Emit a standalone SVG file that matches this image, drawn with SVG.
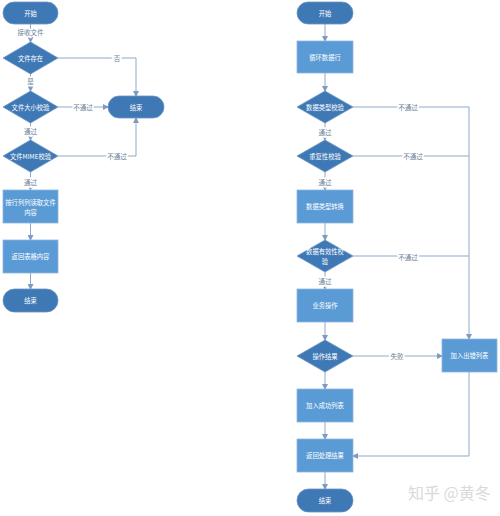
<svg xmlns="http://www.w3.org/2000/svg" width="500" height="516" viewBox="0 0 500 516">
<defs>
<marker id="ah" markerWidth="6" markerHeight="6" refX="5" refY="3" orient="auto" markerUnits="userSpaceOnUse">
<path d="M0,0 L6,3 L0,6 Z" fill="#7f9cc0"/>
</marker>
<style>
.term{fill:#3f79b5;stroke:#6a94c4;stroke-width:0.8}
.dia{fill:#3f79b5;stroke:#6a94c4;stroke-width:0.8}
.box{fill:#5b9bd5;stroke:#8fb6e0;stroke-width:0.8}
.nt{font-family:"Noto Sans CJK SC","Liberation Sans",sans-serif;font-size:6.3px;fill:#ffffff;text-anchor:middle;dominant-baseline:central}
.ln{fill:none;stroke:#8ea9c8;stroke-width:1}
.arr{marker-end:url(#ah)}
.lb{font-family:"Noto Sans CJK SC","Liberation Sans",sans-serif;font-size:6.5px;fill:#6b7f99;text-anchor:middle;dominant-baseline:central;stroke:#ffffff;stroke-width:3;paint-order:stroke}
.wm{font-family:"Noto Sans CJK SC","Liberation Sans",sans-serif;font-size:16px;fill:#dadada}
</style>
</defs>
<rect width="500" height="516" fill="#ffffff"/>
<g id="connectors">
<path class="ln arr" d="M30.5,24 V42"/>
<path class="ln arr" d="M30.5,74 V91"/>
<path class="ln arr" d="M30.5,123 V140"/>
<path class="ln arr" d="M30.5,172 V190"/>
<path class="ln arr" d="M30.5,223 V240"/>
<path class="ln arr" d="M30.5,273 V289"/>
<path class="ln arr" d="M58,58 H136 V96"/>
<path class="ln arr" d="M58,107 H108"/>
<path class="ln arr" d="M58,156 H136 V118"/>
<path class="ln arr" d="M325,24 V41"/>
<path class="ln arr" d="M325,73 V91"/>
<path class="ln arr" d="M325,123 V140"/>
<path class="ln arr" d="M325,172 V190"/>
<path class="ln arr" d="M325,223 V240"/>
<path class="ln arr" d="M325,272 V289"/>
<path class="ln arr" d="M325,322 V340"/>
<path class="ln arr" d="M325,372 V389"/>
<path class="ln arr" d="M325,422 V439"/>
<path class="ln arr" d="M325,472 V489"/>
<path class="ln arr" d="M353,107 H469 V339"/>
<path class="ln" d="M353,156 H469"/>
<path class="ln" d="M353,256 H469"/>
<path class="ln arr" d="M353,356 H442"/>
<path class="ln arr" d="M469,372 V456 H353"/>
<text class="lb" x="30.5" y="32">接收文件</text>
<text class="lb" x="30.5" y="81">是</text>
<text class="lb" x="30.5" y="131">通过</text>
<text class="lb" x="30.5" y="182">通过</text>
<text class="lb" x="117" y="58">否</text>
<text class="lb" x="83" y="107">不通过</text>
<text class="lb" x="117" y="156">不通过</text>
<text class="lb" x="325" y="132">通过</text>
<text class="lb" x="325" y="182">通过</text>
<text class="lb" x="325" y="281">通过</text>
<text class="lb" x="408" y="107">不通过</text>
<text class="lb" x="413" y="156">不通过</text>
<text class="lb" x="408" y="257">不通过</text>
<text class="lb" x="397" y="356">失败</text>
</g>
<g id="l-start"><rect class="term" x="3" y="2" width="55" height="22" rx="11"/><text class="nt" x="30.5" y="13">开始</text></g>
<g id="l-exist"><path class="dia" d="M3,58 L30.5,42 L58,58 L30.5,74 Z"/><text class="nt" x="30.5" y="58">文件存在</text></g>
<g id="l-size"><path class="dia" d="M3,107 L30.5,91 L58,107 L30.5,123 Z"/><text class="nt" x="30.5" y="107">文件大小校验</text></g>
<g id="l-mime"><path class="dia" d="M3,156 L30.5,140 L58,156 L30.5,172 Z"/><text class="nt" x="30.5" y="156">文件MIME校验</text></g>
<g id="l-read"><rect class="box" x="3" y="190" width="55" height="33"/><text class="nt" x="30.5" y="202">按行列列读取文件</text><text class="nt" x="30.5" y="212">内容</text></g>
<g id="l-ret"><rect class="box" x="3" y="240" width="55" height="33"/><text class="nt" x="30.5" y="256.5">返回表格内容</text></g>
<g id="l-end"><rect class="term" x="3" y="289" width="55" height="23" rx="11.5"/><text class="nt" x="30.5" y="300.5">结束</text></g>
<g id="l-end2"><rect class="term" x="108" y="96" width="56" height="22" rx="11"/><text class="nt" x="136" y="107">结束</text></g>
<g id="r-start"><rect class="term" x="297" y="2" width="56" height="22" rx="11"/><text class="nt" x="325" y="13">开始</text></g>
<g id="r-loop"><rect class="box" x="297" y="41" width="56" height="32"/><text class="nt" x="325" y="57">循环数据行</text></g>
<g id="r-type"><path class="dia" d="M297,107 L325,91 L353,107 L325,123 Z"/><text class="nt" x="325" y="107">数据类型校验</text></g>
<g id="r-dup"><path class="dia" d="M297,156 L325,140 L353,156 L325,172 Z"/><text class="nt" x="325" y="156">重复性校验</text></g>
<g id="r-conv"><rect class="box" x="297" y="190" width="56" height="33"/><text class="nt" x="325" y="206.5">数据类型转换</text></g>
<g id="r-valid"><path class="dia" d="M297,256 L325,240 L353,256 L325,272 Z"/><text class="nt" x="325" y="251">数据有效性校</text><text class="nt" x="325" y="261">验</text></g>
<g id="r-biz"><rect class="box" x="297" y="289" width="56" height="33"/><text class="nt" x="325" y="305.5">业务操作</text></g>
<g id="r-res"><path class="dia" d="M297,356 L325,340 L353,356 L325,372 Z"/><text class="nt" x="325" y="356">操作结果</text></g>
<g id="r-ok"><rect class="box" x="297" y="389" width="56" height="33"/><text class="nt" x="325" y="405.5">加入成功列表</text></g>
<g id="r-err"><rect class="box" x="442" y="339" width="55" height="33"/><text class="nt" x="469.5" y="355.5">加入出错列表</text></g>
<g id="r-ret"><rect class="box" x="297" y="439" width="56" height="33"/><text class="nt" x="325" y="455.5">返回处理结果</text></g>
<g id="r-end"><rect class="term" x="297" y="489" width="56" height="23" rx="11.5"/><text class="nt" x="325" y="500.5">结束</text></g>
<text class="wm" x="408" y="499">知乎 @黄冬</text>
</svg>
